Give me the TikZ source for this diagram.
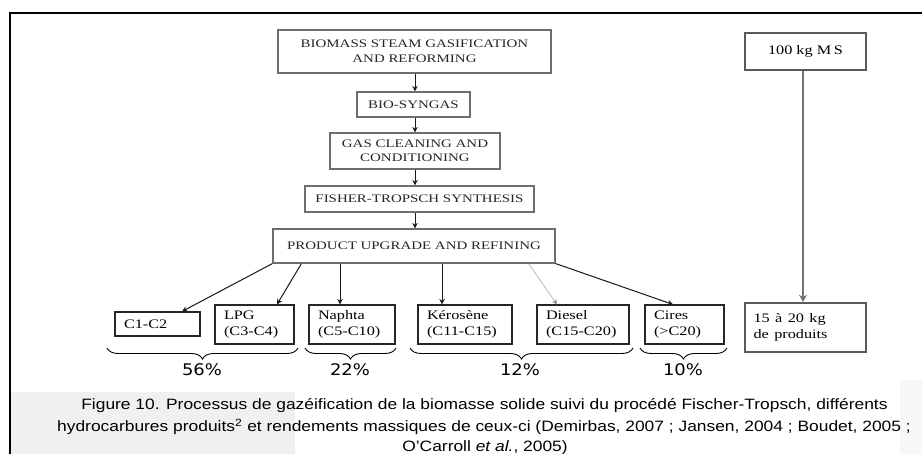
\documentclass[tikz,border=0pt]{standalone}
\usepackage{fontspec}
\setmainfont{Liberation Serif}
\newfontfamily\capfont{Liberation Sans}
\newfontfamily\pctfont{DejaVu Sans}
\usepackage{graphicx}
\usetikzlibrary{arrows.meta,decorations.pathreplacing,calc}
\newcommand\sx[1]{\scalebox{1.3}[1]{#1}}
\newcommand\sy[1]{\scalebox{1.25}[1]{#1}}
\newcommand\capsc[1]{\scalebox{1.16}[1]{#1}}
\definecolor{procgray}{HTML}{6E6E6E}
\definecolor{textgray}{HTML}{262626}
\definecolor{massgray}{HTML}{5A5A5A}
\tikzset{
  proc/.style={draw=procgray, line width=1.1pt, text=textgray, align=center,
    inner sep=0pt, font=\fontsize{11.5}{14.5}\selectfont},
  prod/.style={draw=black!85, line width=1.1pt, align=left, inner xsep=9pt,
    inner ysep=0pt, minimum height=39pt, font=\fontsize{13}{15.5}\selectfont},
  mass/.style={draw=massgray, line width=2.3pt, inner sep=0pt,
    font=\fontsize{13}{16}\selectfont},
  flow/.style={-{Stealth[length=5.5pt,width=5.5pt]}, line width=1pt, draw=black!90},
  brc/.style={decorate, decoration={brace, mirror, amplitude=11pt}, line width=0.9pt},
  pct/.style={font=\pctfont\fontsize{16}{18}\selectfont, inner sep=0pt},
  capline/.style={font=\capfont\fontsize{15}{16}\selectfont, inner sep=0pt, anchor=base}
}
\begin{document}
\begin{tikzpicture}[x=1pt,y=-1pt]
\useasboundingbox (0,0) rectangle (922,454);
\fill[white] (0,0) rectangle (922,454);
\fill[black!6] (11,392) rectangle (295,454);
\fill[black!3] (900,380) rectangle (922,454);
\draw[line width=1.6pt] (10,454) -- (10,13) -- (922,13);

% process chain
\node[proc, minimum width=273pt, minimum height=43pt] (b1) at (414.5,51.5)
  {\sx{BIOMASS STEAM GASIFICATION}\\\sx{AND REFORMING}};
\node[proc, minimum width=113pt, minimum height=25pt] (b2) at (413.5,104.5)
  {\sx{BIO-SYNGAS}};
\node[proc, minimum width=170pt, minimum height=36pt] (b3) at (415,151)
  {\sx{GAS CLEANING AND}\\\sx{CONDITIONING}};
\node[proc, minimum width=229pt, minimum height=26pt] (b4) at (419.5,199)
  {\sx{FISHER-TROPSCH SYNTHESIS}};
\node[proc, minimum width=282pt, minimum height=34pt] (b5) at (414,246)
  {\sx{PRODUCT UPGRADE AND REFINING}};

\draw[flow] (b1.south -| 415,0) -- (b2.north -| 415,0);
\draw[flow] (b2.south -| 415,0) -- (b3.north -| 415,0);
\draw[flow] (b3.south -| 415,0) -- (b4.north -| 415,0);
\draw[flow] (b4.south -| 415,0) -- (b5.north -| 415,0);

% products
\node[prod, text width=67pt, minimum height=24pt] (c1) at (157.5,324) {\sy{C1-C2}};
\node[prod, text width=61pt] (lpg) at (254.5,324.5) {\sy{LPG}\\\sy{(C3-C4)}};
\node[prod, text width=68pt] (nap) at (352,324.5) {\sy{Naphta}\\\sy{(C5-C10)}};
\node[prod, text width=76pt] (ker) at (465,324.5) {\sy{Kérosène}\\\sy{(C11-C15)}};
\node[prod, text width=74pt] (die) at (583,324.5) {\sy{Diesel}\\\sy{(C15-C20)}};
\node[prod, text width=61pt] (cir) at (684.5,324.5) {\sy{Cires}\\\sy{(>C20)}};

\draw[flow] (b5.south west) -- ([xshift=24.5pt]c1.north);
\draw[flow] ([xshift=29pt]b5.south west) -- ([xshift=22.5pt]lpg.north);
\draw[flow] ([xshift=-12pt]nap.north |- b5.south) -- ([xshift=-12pt]nap.north);
\draw[flow] ([xshift=-23pt]ker.north |- b5.south) -- ([xshift=-23pt]ker.north);
\draw[-{Stealth[length=5pt,width=5pt]}, line width=0.4pt, draw=black!45]
  ([xshift=-27pt]b5.south east) -- ([xshift=-26pt]die.north);
\draw[flow] (b5.south east) -- ([xshift=-11.5pt]cir.north);

% braces and percentages
\draw[brc] (107,348) -- (298,348);
\draw[brc] (305,348) -- (396,348);
\draw[brc] (410,348) -- (633,348);
\draw[brc] (640,348) -- (727,348);
\node[pct] (p1) at (202,370) {\scalebox{1.12}[1]{56\%}};
\node[pct] (p2) at (350,370) {\scalebox{1.12}[1]{22\%}};
\node[pct] (p3) at (520,370) {\scalebox{1.12}[1]{12\%}};
\node[pct] (p4) at (683,370) {\scalebox{1.12}[1]{10\%}};

% mass boxes
\node[mass, minimum width=121pt, minimum height=37pt] (m1) at (805.5,51.5)
  {\sy{100 kg M\,S}};
\node[mass, minimum width=121pt, minimum height=49pt, align=left, text width=104pt] (m2) at (805.5,327.5)
  {\sy{\makebox[73pt][s]{15 à 20 kg}}\\\sy{de produits}};
\draw[-{Stealth[length=7pt,width=8pt]}, line width=1.4pt, draw=black!55]
  ([xshift=-2.5pt]m1.south) -- ([xshift=-2.5pt]m2.north);

% caption
\node[capline] (cap1) at (484.5,409.5) {\capsc{Figure 10. Processus de gazéification de la biomasse solide suivi du procédé Fischer-Tropsch, différents}};
\node[capline] (cap2) at (484,431.5) {\capsc{hydrocarbures produits\textsuperscript{2} et rendements massiques de ceux-ci (Demirbas, 2007 ; Jansen, 2004 ; Boudet, 2005 ;}};
\node[capline] (cap3) at (485,452) {\capsc{O’Carroll \textit{et al.}, 2005)}};
\end{tikzpicture}
\end{document}
